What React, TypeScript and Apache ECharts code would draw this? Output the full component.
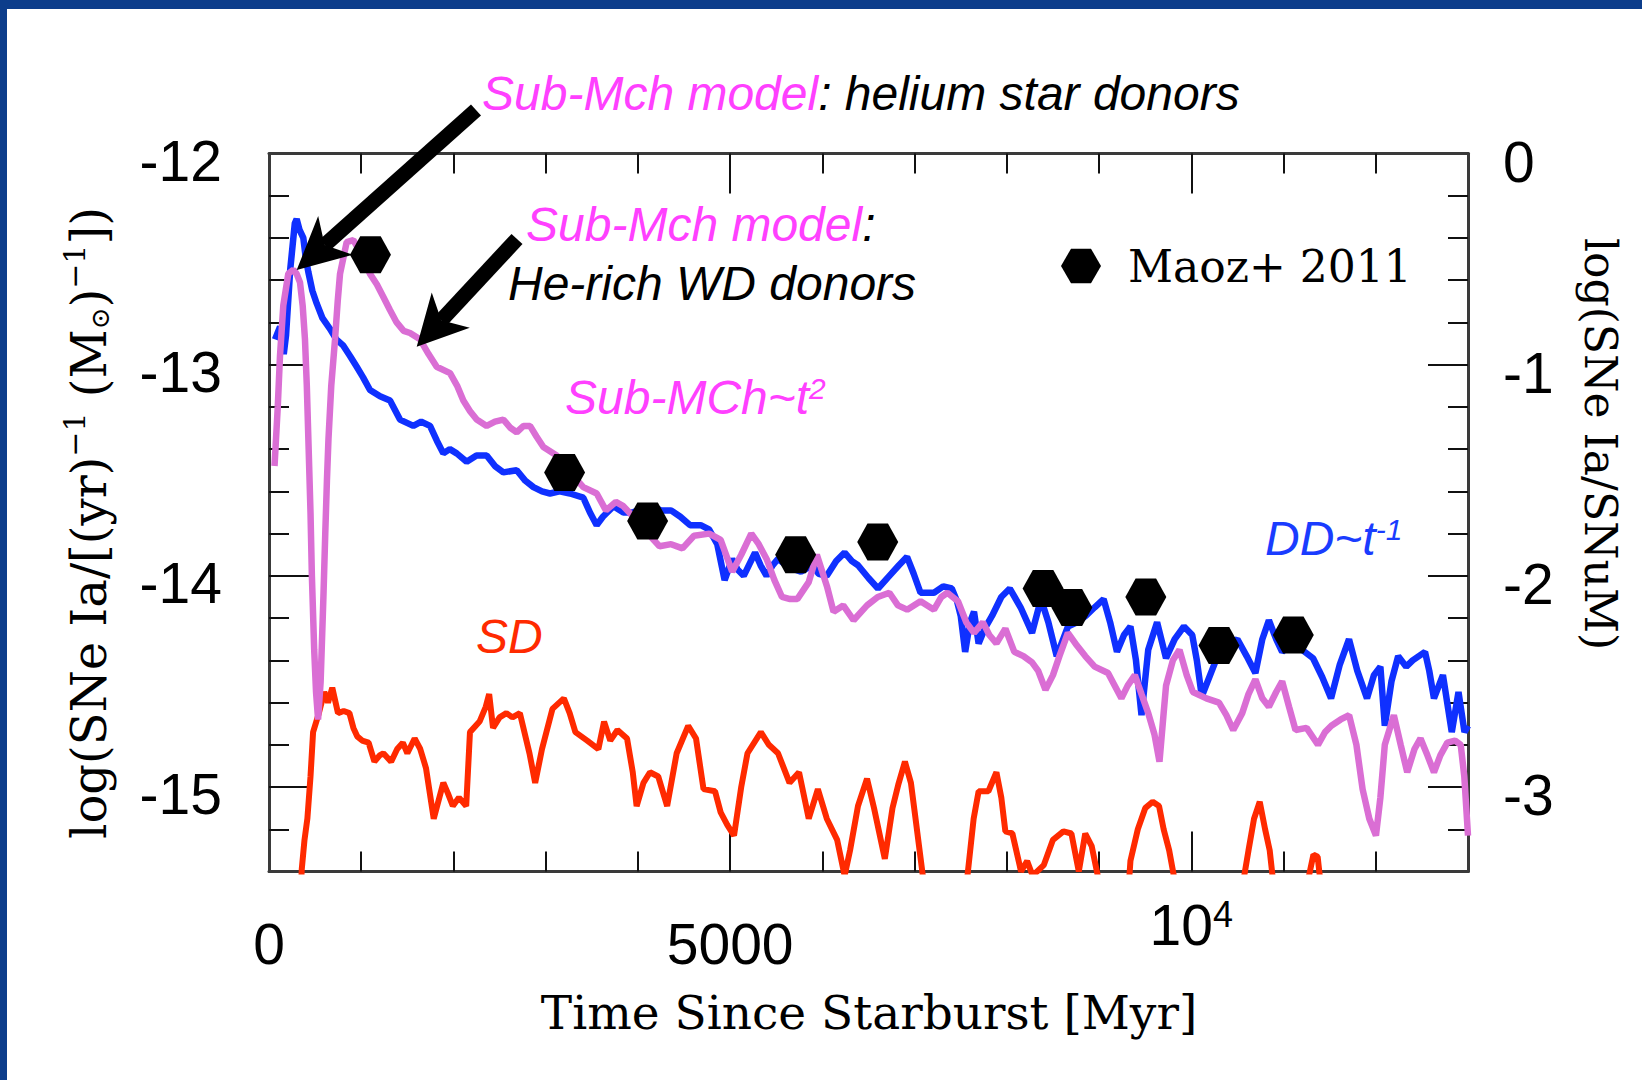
import React, { useEffect, useRef } from "react";
import * as echarts from "echarts";

// ---------------- data ----------------
// x: Time since starburst [Myr], y: log(SNe Ia / [(yr)^-1 (Msun)^-1])
const ddCurve: [number, number][] = [
  [65, -12.88], [120, -12.82], [160, -12.95], [185, -12.86], [230, -12.55], [280, -12.33], [300, -12.31],
  [330, -12.36], [372, -12.40], [400, -12.50], [426, -12.56], [470, -12.65], [517, -12.71], [580, -12.78],
  [661, -12.83], [730, -12.88], [806, -12.91], [880, -12.96], [951, -13.01], [1020, -13.06], [1095, -13.12],
  [1204, -13.15], [1312, -13.17], [1420, -13.26], [1565, -13.29], [1650, -13.27], [1746, -13.29], [1820, -13.36],
  [1890, -13.42], [1960, -13.40], [2035, -13.42], [2143, -13.46], [2250, -13.43], [2360, -13.43], [2450, -13.48],
  [2541, -13.51], [2686, -13.50], [2780, -13.55], [2867, -13.58], [2960, -13.60], [3047, -13.61], [3150, -13.60],
  [3264, -13.61], [3408, -13.63], [3480, -13.70], [3553, -13.76], [3620, -13.72], [3736, -13.67], [3843, -13.70],
  [3943, -13.70], [4050, -13.68], [4150, -13.67], [4250, -13.69], [4359, -13.69], [4460, -13.72], [4565, -13.76],
  [4680, -13.76], [4771, -13.78], [4860, -13.85], [4940, -14.02], [5022, -13.92], [5080, -13.97], [5147, -14.00],
  [5270, -13.89], [5330, -13.95], [5395, -14.00], [5460, -13.95], [5519, -13.92], [5640, -13.96], [5768, -13.98],
  [5893, -13.95], [5960, -13.99], [6048, -14.00], [6150, -13.93], [6241, -13.89], [6320, -13.93], [6386, -13.95],
  [6500, -14.01], [6603, -14.06], [6726, -14.00], [6830, -13.95], [6918, -13.91], [6990, -13.99], [7064, -14.08],
  [7210, -14.08], [7310, -14.05], [7403, -14.06], [7460, -14.12], [7500, -14.19], [7548, -14.36], [7600, -14.22],
  [7644, -14.17], [7694, -14.32], [7760, -14.25], [7839, -14.19], [7940, -14.10], [8032, -14.06], [8150, -14.15],
  [8273, -14.27], [8370, -14.11], [8450, -14.22], [8541, -14.38], [8662, -14.24], [8760, -14.22], [8855, -14.19],
  [8950, -14.15], [9049, -14.11], [9120, -14.22], [9194, -14.36], [9270, -14.28], [9340, -14.24], [9400, -14.40],
  [9460, -14.66], [9533, -14.35], [9629, -14.22], [9726, -14.39], [9820, -14.30], [9920, -14.24], [10010, -14.28],
  [10060, -14.40], [10114, -14.57], [10258, -14.41], [10404, -14.33], [10500, -14.30], [10600, -14.38],
  [10695, -14.46], [10770, -14.30], [10841, -14.21], [10920, -14.30], [10985, -14.36], [11100, -14.31],
  [11200, -14.35], [11320, -14.39], [11420, -14.48], [11515, -14.58], [11610, -14.42], [11710, -14.30],
  [11800, -14.45], [11905, -14.58], [11980, -14.47], [12050, -14.43], [12098, -14.71], [12170, -14.50],
  [12243, -14.38], [12330, -14.43], [12400, -14.40], [12534, -14.36], [12580, -14.45], [12631, -14.58],
  [12728, -14.47], [12824, -14.74], [12897, -14.55], [12962, -14.74], [13000, -14.71],
];

const subMchCurve: [number, number][] = [
  [60, -13.48], [95, -13.20], [119, -12.96], [155, -12.72], [209, -12.57], [264, -12.55], [300, -12.57],
  [336, -12.61], [365, -12.72], [390, -12.88], [410, -13.10], [430, -13.40], [450, -13.70], [465, -14.00],
  [490, -14.35], [510, -14.55], [532, -14.68], [560, -14.50], [590, -14.10], [610, -13.80], [628, -13.55],
  [645, -13.35], [675, -13.10], [716, -12.88], [745, -12.70], [770, -12.57], [842, -12.42], [915, -12.41],
  [980, -12.46], [1095, -12.57], [1170, -12.62], [1240, -12.68], [1310, -12.74], [1384, -12.80], [1460, -12.84],
  [1529, -12.85], [1637, -12.88], [1730, -12.95], [1818, -13.01], [1963, -13.04], [2040, -13.10], [2107, -13.17],
  [2180, -13.22], [2252, -13.26], [2360, -13.29], [2450, -13.27], [2541, -13.26], [2620, -13.30], [2686, -13.32],
  [2760, -13.29], [2830, -13.29], [2900, -13.34], [2975, -13.39], [3119, -13.43], [3264, -13.51], [3408, -13.58],
  [3553, -13.61], [3653, -13.69], [3760, -13.65], [3842, -13.67], [3950, -13.72], [4050, -13.76], [4150, -13.82],
  [4234, -13.86], [4360, -13.85], [4483, -13.87], [4608, -13.81], [4773, -13.80], [4897, -13.83], [5022, -13.98],
  [5120, -13.90], [5229, -13.80], [5310, -13.85], [5395, -13.92], [5480, -14.02], [5562, -14.10], [5650, -14.11],
  [5728, -14.11], [5852, -14.03], [5940, -13.90], [6050, -14.05], [6121, -14.17], [6226, -14.14], [6338, -14.21],
  [6484, -14.14], [6600, -14.10], [6726, -14.08], [6819, -14.14], [6919, -14.16], [7064, -14.12], [7210, -14.16],
  [7290, -14.10], [7355, -14.08], [7470, -14.12], [7560, -14.22], [7644, -14.27], [7740, -14.22], [7810, -14.28],
  [7887, -14.32], [7984, -14.25], [8081, -14.36], [8180, -14.38], [8273, -14.41], [8340, -14.45], [8419, -14.54],
  [8500, -14.47], [8570, -14.38], [8662, -14.27], [8760, -14.33], [8850, -14.38], [8952, -14.43], [9097, -14.46],
  [9170, -14.52], [9242, -14.58], [9310, -14.52], [9388, -14.47], [9460, -14.56], [9533, -14.65], [9600, -14.75],
  [9655, -14.88], [9700, -14.65], [9726, -14.52], [9800, -14.40], [9872, -14.35], [9950, -14.47], [10017, -14.55],
  [10163, -14.58], [10300, -14.60], [10380, -14.66], [10455, -14.73], [10552, -14.65], [10620, -14.56],
  [10695, -14.49], [10770, -14.58], [10841, -14.62], [10920, -14.55], [10985, -14.50], [11060, -14.62],
  [11130, -14.73], [11250, -14.72], [11373, -14.80], [11450, -14.74], [11518, -14.71], [11620, -14.68],
  [11711, -14.66], [11790, -14.80], [11857, -15.01], [11930, -15.15], [12002, -15.23], [12050, -15.05],
  [12098, -14.80], [12196, -14.66], [12270, -14.80], [12341, -14.93], [12420, -14.82], [12485, -14.77],
  [12560, -14.85], [12631, -14.93], [12700, -14.85], [12776, -14.79], [12860, -14.78], [12921, -14.80],
  [12960, -14.95], [13000, -15.23],
];

const sdCurve: [number, number][] = [
  [300, -16.0], [355, -15.39], [385, -15.25], [416, -15.15], [450, -14.95], [478, -14.74], [541, -14.65],
  [600, -14.55], [640, -14.60], [686, -14.53], [748, -14.65], [810, -14.64], [872, -14.65], [915, -14.72],
  [956, -14.76], [1010, -14.78], [1080, -14.79], [1143, -14.88], [1200, -14.85], [1240, -14.84], [1324, -14.88],
  [1390, -14.82], [1451, -14.79], [1500, -14.84], [1579, -14.77], [1640, -14.82], [1702, -14.91], [1786, -15.15],
  [1890, -14.98], [1940, -15.03], [1993, -15.09], [2060, -15.05], [2138, -15.09], [2179, -14.74], [2283, -14.69],
  [2350, -14.62], [2387, -14.56], [2429, -14.72], [2500, -14.67], [2574, -14.65], [2640, -14.67], [2720, -14.65],
  [2824, -14.84], [2886, -14.98], [2960, -14.82], [3073, -14.63], [3197, -14.58], [3260, -14.65], [3322, -14.74],
  [3450, -14.78], [3571, -14.82], [3633, -14.69], [3700, -14.78], [3778, -14.73], [3882, -14.77], [3944, -14.93],
  [3986, -15.09], [4060, -14.98], [4131, -14.93], [4220, -14.95], [4317, -15.09], [4420, -14.84], [4545, -14.71],
  [4630, -14.77], [4711, -15.01], [4836, -15.02], [4897, -15.12], [4970, -15.18], [5042, -15.23], [5120, -15.00],
  [5188, -14.84], [5333, -14.74], [5420, -14.80], [5519, -14.84], [5644, -14.98], [5747, -14.93], [5852, -15.15],
  [5951, -15.01], [6048, -15.15], [6160, -15.25], [6241, -15.42], [6300, -15.30], [6386, -15.09], [6484, -14.96],
  [6560, -15.10], [6677, -15.34], [6760, -15.10], [6822, -14.99], [6895, -14.88], [6960, -14.98], [7010, -15.15],
  [7089, -15.42], [7150, -15.70], [7500, -15.70], [7573, -15.42], [7640, -15.15], [7694, -15.02], [7800, -15.02],
  [7887, -14.93], [7940, -15.05], [7984, -15.21], [8060, -15.22], [8154, -15.40], [8220, -15.35], [8280, -15.42],
  [8400, -15.37], [8500, -15.25], [8613, -15.21], [8700, -15.22], [8780, -15.40], [8850, -15.22], [8920, -15.28],
  [9000, -15.45], [9100, -15.70], [9300, -15.60], [9340, -15.35], [9420, -15.20], [9500, -15.10], [9581, -15.07],
  [9650, -15.09], [9700, -15.20], [9760, -15.30], [9823, -15.45], [9900, -15.80], [10500, -15.80], [10574, -15.42],
  [10620, -15.30], [10680, -15.15], [10742, -15.07], [10800, -15.20], [10850, -15.30], [10888, -15.45],
  [10950, -15.80], [11200, -15.80], [11276, -15.42], [11324, -15.32], [11370, -15.33], [11400, -15.45],
  [11450, -16.0], [13000, -16.0],
];

const maozPoints: [number, number][] = [
  [1100, -12.48], [3205, -13.51], [4105, -13.74], [5710, -13.90], [6600, -13.84],
  [8393, -14.06], [8705, -14.15], [9507, -14.10], [10300, -14.33], [11106, -14.28],
];

// axes
const X_MIN = 0;
const X_MAX = 13000;
const xMinorTicks = [1000, 2000, 3000, 4000, 6000, 7000, 8000, 9000, 11000, 12000];
const xMajorTicks = [5000, 10000];
const xPlainLabels = [0, 5000];
const xPowerLabels = [10000];
const Y_MIN = -15.4;
const Y_MAX = -12;
const yMinorTicks = [
  -12.2, -12.4, -12.6, -12.8, -13.2, -13.4, -13.6, -13.8, -14.2, -14.4, -14.6, -14.8, -15.2,
];
const yMajorTicks = [-13, -14, -15];
const yLeftLabels = [-12, -13, -14, -15];
const Y2_MIN = -3.4;
const Y2_MAX = 0;
const yRightLabels = [0, -1, -2, -3];
const yRightMajor = [-1, -2, -3];

// ---------------- styling ----------------
const BLUE = "#0f30ff";
const PINK = "#da6ed4";
const RED = "#ff2a00";
const MAGENTA_TEXT = "#ff40ff";
const BLUE_TEXT = "#1a3cff";
const AXIS = "#3a3a3a";
const SANS = "Liberation Sans";
const SERIF = "DejaVu Serif";
const HEX = "path://M-1,0L-0.5,-0.866L0.5,-0.866L1,0L0.5,0.866L-0.5,0.866Z";

const GRID = { left: 269, top: 153.5, width: 1199, height: 718 };

function arrow(tail: number[], tip: number[], headLen: number, halfW: number, shaftW: number) {
  const dx = tip[0] - tail[0];
  const dy = tip[1] - tail[1];
  const L = Math.hypot(dx, dy);
  const ux = dx / L;
  const uy = dy / L;
  const px = -uy;
  const py = ux;
  const bx = tip[0] - ux * headLen;
  const by = tip[1] - uy * headLen;
  const nx = tip[0] - ux * headLen * 0.72;
  const ny = tip[1] - uy * headLen * 0.72;
  return [
    {
      type: "line",
      shape: { x1: tail[0], y1: tail[1], x2: nx, y2: ny },
      style: { stroke: "#000", lineWidth: shaftW, lineCap: "butt" },
      z: 100,
    },
    {
      type: "polygon",
      shape: {
        points: [
          [tip[0], tip[1]],
          [bx + px * halfW, by + py * halfW],
          [nx, ny],
          [bx - px * halfW, by - py * halfW],
        ],
      },
      style: { fill: "#000" },
      z: 100,
    },
  ];
}

function label(x: number, y: number, text: string, rich: any) {
  return {
    type: "text",
    x,
    y,
    z: 100,
    style: { text, rich, align: "left", verticalAlign: "middle" },
  };
}

const itSans = (fill: string, size = 48) => ({
  fill,
  fontSize: size,
  fontStyle: "italic",
  fontFamily: SANS,
  lineHeight: size,
  verticalAlign: "bottom",
});
const supSans = (fill: string, size = 30) => ({
  fill,
  fontSize: size,
  fontStyle: "italic",
  fontFamily: SANS,
  lineHeight: size,
  verticalAlign: "top",
});

const tickNum = (shift: number) => ({
  formatter: (v: number) => `{n|${v}}`,
  rich: {
    n: { fontFamily: SANS, fontSize: 57, color: "#000", lineHeight: 57, padding: [shift * 2, 0, 0, 0] },
  },
});

export default function App() {
  const ref = useRef<HTMLDivElement>(null);

  useEffect(() => {
    if (!ref.current) return;
    const chart = echarts.init(ref.current, undefined, { renderer: "svg" });

    const tickStyle = { color: "#111", width: 2 };
    const lineStyle = { color: AXIS, width: 3 };
    const base = { type: "value", splitLine: { show: false } };

    const option: any = {
      animation: false,
      backgroundColor: "#ffffff",
      grid: { ...GRID, containLabel: false, outerBoundsMode: "none" },
      legend: {
        data: ["Maoz+ 2011"],
        left: 1056,
        top: 239,
        icon: HEX,
        itemWidth: 40,
        itemHeight: 36,
        itemStyle: { opacity: 1, color: "#000" },
        textStyle: { fontFamily: SERIF, fontSize: 44, color: "#000", padding: [16, 0, 0, 22] },
        selectedMode: false,
      },
      xAxis: [
        {
          ...base, min: X_MIN, max: X_MAX, position: "bottom",
          axisLine: { show: true, onZero: false, lineStyle },
          axisTick: { show: true, inside: true, length: 20, customValues: xMinorTicks, lineStyle: tickStyle },
          axisLabel: {
            customValues: xPlainLabels, fontFamily: SANS, fontSize: 57, color: "#000", margin: 44,
            lineHeight: 57, formatter: (v: number) => String(v),
          },
        },
        {
          ...base, min: X_MIN, max: X_MAX, position: "bottom",
          axisLine: { show: false, onZero: false },
          axisTick: { show: true, inside: true, length: 40, customValues: xMajorTicks, lineStyle: tickStyle },
          axisLabel: {
            customValues: xPowerLabels,
            margin: 25,
            formatter: (v: number) => `{a|10}{b|${Math.round(Math.log10(v))}}`,
            rich: {
              a: { fontFamily: SANS, fontSize: 57, color: "#000", lineHeight: 57, verticalAlign: "bottom" },
              b: { fontFamily: SANS, fontSize: 36, color: "#000", lineHeight: 36, verticalAlign: "top" },
            },
          },
        },
        {
          ...base, min: X_MIN, max: X_MAX, position: "top",
          axisLine: { show: true, onZero: false, lineStyle },
          axisTick: { show: true, inside: true, length: 20, customValues: xMinorTicks, lineStyle: tickStyle },
          axisLabel: { show: false },
        },
        {
          ...base, min: X_MIN, max: X_MAX, position: "top",
          axisLine: { show: false, onZero: false },
          axisTick: { show: true, inside: true, length: 40, customValues: xMajorTicks, lineStyle: tickStyle },
          axisLabel: { show: false },
        },
      ],
      yAxis: [
        {
          ...base, min: Y_MIN, max: Y_MAX, position: "left",
          axisLine: { show: true, onZero: false, lineStyle },
          axisTick: { show: true, inside: true, length: 20, customValues: yMinorTicks, lineStyle: tickStyle },
          axisLabel: { customValues: yLeftLabels, margin: 47, ...tickNum(7) },
        },
        {
          ...base, min: Y_MIN, max: Y_MAX, position: "left",
          axisLine: { show: false, onZero: false },
          axisTick: { show: true, inside: true, length: 40, customValues: yMajorTicks, lineStyle: tickStyle },
          axisLabel: { show: false },
        },
        {
          ...base, min: Y_MIN, max: Y_MAX, position: "right",
          axisLine: { show: true, onZero: false, lineStyle },
          axisTick: { show: true, inside: true, length: 20, customValues: yMinorTicks, lineStyle: tickStyle },
          axisLabel: { show: false },
        },
        {
          ...base, min: Y2_MIN, max: Y2_MAX, position: "right",
          axisLine: { show: false, onZero: false },
          axisTick: { show: true, inside: true, length: 40, customValues: yRightMajor, lineStyle: tickStyle },
          axisLabel: { customValues: yRightLabels, margin: 35, ...tickNum(8) },
        },
      ],
      series: [
        {
          name: "SD", type: "line", data: sdCurve, showSymbol: false, clip: true,
          lineStyle: { color: RED, width: 6 }, itemStyle: { color: RED }, z: 2,
        },
        {
          name: "DD", type: "line", data: ddCurve, showSymbol: false, clip: true,
          lineStyle: { color: BLUE, width: 6.5 }, itemStyle: { color: BLUE }, z: 3,
        },
        {
          name: "Sub-Mch", type: "line", data: subMchCurve, showSymbol: false, clip: true,
          lineStyle: { color: PINK, width: 6.5 }, itemStyle: { color: PINK }, z: 4,
        },
        {
          name: "Maoz+ 2011", type: "scatter", data: maozPoints, symbol: HEX, symbolSize: [41, 37],
          itemStyle: { color: "#000", opacity: 1 }, z: 5,
        },
      ],
      graphic: [
        { type: "rect", shape: { x: 0, y: 0, width: 1642, height: 9 }, style: { fill: "#0c3d8b" }, z: 200 },
        { type: "rect", shape: { x: 0, y: 0, width: 7, height: 1080 }, style: { fill: "#0c3d8b" }, z: 200 },
        ...arrow([476, 110], [296.7, 270], 52, 26, 15),
        ...arrow([517, 239], [416.7, 346.7], 50, 26, 15),
        label(482, 93, "{m|Sub-Mch model}{k|: helium star donors}", {
          m: itSans(MAGENTA_TEXT), k: itSans("#000"),
        }),
        label(526, 224, "{m|Sub-Mch model}{k|:}", { m: itSans(MAGENTA_TEXT), k: itSans("#000") }),
        label(508, 283, "{k|He-rich WD donors}", { k: itSans("#000") }),
        label(565, 397, "{m|Sub-MCh~t}{s|2}", { m: itSans(MAGENTA_TEXT), s: supSans(MAGENTA_TEXT) }),
        label(1265, 538, "{m|DD~t}{s|-1}", { m: itSans(BLUE_TEXT), s: supSans(BLUE_TEXT) }),
        label(476, 636, "{m|SD}", { m: itSans(RED) }),
        {
          type: "text",
          x: 869,
          y: 1012,
          z: 100,
          style: {
            text: "Time Since Starburst [Myr]",
            fontFamily: SERIF, fontSize: 47, fill: "#000", align: "center", verticalAlign: "middle",
          },
        },
        {
          type: "text",
          x: 86,
          y: 523,
          rotation: Math.PI / 2,
          z: 100,
          style: {
            text: "{t|log(SNe Ia/[(yr)}{s|−1}{t| (M}{o|⊙}{t|)}{s|−1}{t|])}",
            align: "center",
            verticalAlign: "middle",
            rich: {
              t: { fontFamily: SERIF, fontSize: 48, fill: "#000", lineHeight: 54, verticalAlign: "bottom" },
              s: { fontFamily: SERIF, fontSize: 30, fill: "#000", lineHeight: 30, verticalAlign: "top" },
              o: { fontFamily: SERIF, fontSize: 26, fill: "#000", lineHeight: 26, verticalAlign: "bottom" },
            },
          },
        },
        {
          type: "text",
          x: 1600,
          y: 444,
          rotation: -Math.PI / 2,
          z: 100,
          style: {
            text: "log(SNe Ia/SNuM)",
            fontFamily: SERIF, fontSize: 44, fill: "#000", align: "center", verticalAlign: "middle",
          },
        },
      ],
    };

    chart.setOption(option);
    return () => chart.dispose();
  }, []);

  return (
    <div
      ref={ref}
      style={{ position: "absolute", left: 0, top: 0, width: 1642, height: 1080, background: "#fff" }}
    />
  );
}
